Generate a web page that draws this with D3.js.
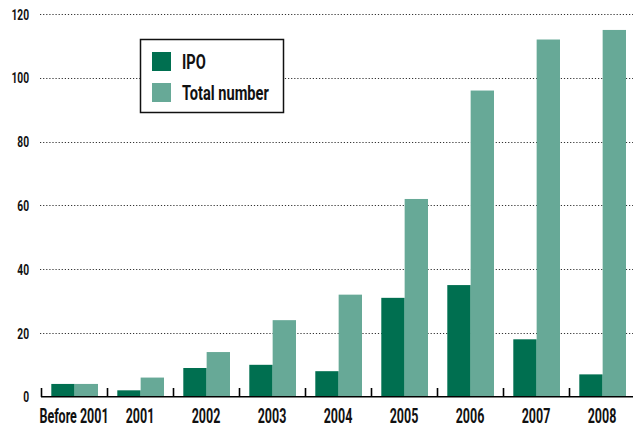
<!DOCTYPE html>
<html>
<head>
<meta charset="utf-8">
<script src="https://cdn.jsdelivr.net/npm/d3@7"></script>
<style>
  body { margin: 0; background: #fff; }
  svg text { font-family: Roboto, "DejaVu Sans", sans-serif; font-weight: 700; fill: #111; }
</style>
</head>
<body>
<svg id="chart" width="633" height="427"></svg>
<script>
// chart data
var categories = ["Before 2001", "2001", "2002", "2003", "2004", "2005", "2006", "2007", "2008"];
var ipoValues = [4, 2, 9, 10, 8, 31, 35, 18, 7];
var totalValues = [4, 6, 14, 24, 32, 62, 96, 112, 115];
var seriesNames = ["IPO", "Total number"];
var yTicks = [0, 20, 40, 60, 80, 100, 120];

var colors = { "IPO": "#006f50", "Total number": "#67a997" };

var svg = d3.select("#chart");

// no narrow font installed, so squeeze the text horizontally
function place(px, py, sx) {
  return "translate(" + px + "," + py + ") scale(" + (sx || 0.64) + ",1)";
}

// scales
var x = d3.scaleBand()
    .domain(categories)
    .range([41, 41 + 66 * categories.length])
    .padding(0);

var sub = d3.scaleBand()
    .domain(seriesNames)
    .range([10.3, 57])
    .padding(0);

var y = d3.scaleLinear()
    .domain([0, 120])
    .range([396.7, 14]);

// dotted gridlines
svg.append("g")
  .selectAll("line")
  .data(yTicks.filter(function(d) { return d > 0; }))
  .enter().append("line")
    .attr("x1", 40)
    .attr("x2", 633)
    .attr("y1", function(d) { return Math.round(y(d)) + 0.5; })
    .attr("y2", function(d) { return Math.round(y(d)) + 0.5; })
    .attr("stroke", "#333")
    .attr("stroke-width", 1.2)
    .attr("stroke-dasharray", "1.2,1.9");

// y labels
svg.append("g")
  .selectAll("text")
  .data(yTicks)
  .enter().append("text")
    .attr("transform", function(d) { return place(29, y(d), 0.66); })
    .attr("dy", "0.36em")
    .attr("text-anchor", "end")
    .attr("font-size", 15.5)
    .text(function(d) { return d; });

// build rows for bars
var rows = categories.map(function(c, i) {
  return { cat: c, values: [
    { key: "IPO", value: ipoValues[i] },
    { key: "Total number", value: totalValues[i] }
  ]};
});

var groups = svg.append("g")
  .selectAll("g")
  .data(rows)
  .enter().append("g")
    .attr("transform", function(d) { return "translate(" + x(d.cat) + ",0)"; });

groups.selectAll("rect")
  .data(function(d) { return d.values; })
  .enter().append("rect")
    .attr("x", function(d) { return sub(d.key); })
    .attr("width", sub.bandwidth())
    .attr("y", function(d) { return y(d.value); })
    .attr("height", function(d) { return y(0) - y(d.value); })
    .attr("fill", function(d) { return colors[d.key]; });

// x axis baseline + ticks at band edges
var axis = svg.append("g");
axis.append("line")
  .attr("x1", 41).attr("x2", 633)
  .attr("y1", 396.7).attr("y2", 396.7)
  .attr("stroke", "#000")
  .attr("stroke-width", 1.6);

axis.selectAll("line.tick")
  .data(categories)
  .enter().append("line")
    .attr("class", "tick")
    .attr("x1", function(d) { return x(d) + 0.5; })
    .attr("x2", function(d) { return x(d) + 0.5; })
    .attr("y1", 388)
    .attr("y2", 397)
    .attr("stroke", "#000")
    .attr("stroke-width", 1.6);

axis.selectAll("text")
  .data(categories)
  .enter().append("text")
    .attr("transform", function(d) { return place(x(d) + x.bandwidth() / 2, 422.5); })
    .attr("text-anchor", "middle")
    .attr("font-size", 19.5)
    .text(function(d) { return d; });

// legend
var legend = svg.append("g");
legend.append("rect")
  .attr("x", 140.5).attr("y", 39.5)
  .attr("width", 143).attr("height", 73)
  .attr("fill", "#fff")
  .attr("stroke", "#111")
  .attr("stroke-width", 1.5);

var items = legend.selectAll("g")
  .data(seriesNames)
  .enter().append("g")
    .attr("transform", function(d, i) { return "translate(152," + (52 + i * 31) + ")"; });

items.append("rect")
  .attr("width", 19).attr("height", 19)
  .attr("fill", function(d) { return colors[d]; });

items.append("text")
  .attr("transform", place(30, 17, 0.75))
  .attr("font-size", 19.5)
  .text(function(d) { return d; });
</script>
</body>
</html>
